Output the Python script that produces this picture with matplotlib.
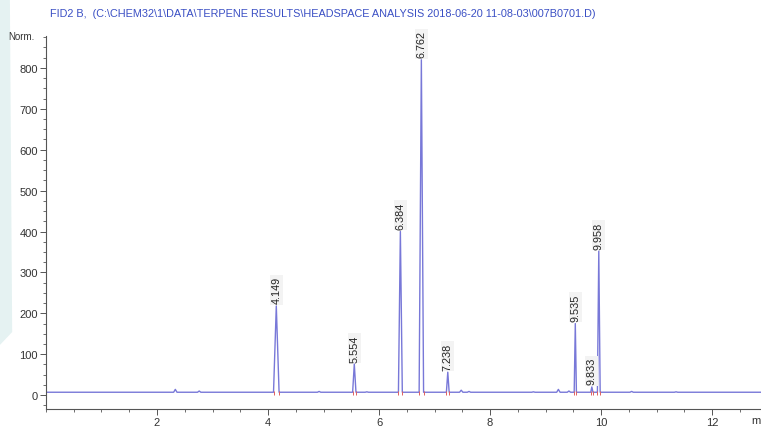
import matplotlib
matplotlib.use("Agg")
import matplotlib.pyplot as plt
from matplotlib.ticker import MultipleLocator

plt.rcParams['font.family'] = ['Liberation Sans', 'DejaVu Sans']

# labelled peaks: retention time (min), height (Norm.), half width (min)
peak_times = [4.149, 5.554, 6.384, 6.762, 7.238, 9.535, 9.833, 9.958]
peak_heights = [218, 76, 400, 820, 56, 175, 20, 352]
peak_widths = [0.05, 0.03, 0.035, 0.04, 0.025, 0.02, 0.02, 0.025]

# small unlabelled bumps
bump_times = [2.33, 2.76, 4.92, 5.78, 7.48, 7.62, 8.78, 9.23, 9.42, 10.55, 11.35]
bump_heights = [14, 10, 9, 8, 12, 9, 8, 14, 10, 9, 8]

baseline = 7
x_end = 13.0

title = "FID2 B,  (C:\\CHEM32\\1\\DATA\\TERPENE RESULTS\\HEADSPACE ANALYSIS 2018-06-20 11-08-03\\007B0701.D)"

# build the trace as a polyline: baseline - peak start - apex - peak end
pts = [(0.0, baseline)]
for t, h, w in sorted(zip(peak_times + bump_times,
                          peak_heights + bump_heights,
                          peak_widths + [0.03] * len(bump_times))):
    pts += [(t - w, baseline), (t, h), (t + w, baseline)]
pts.append((x_end, baseline))
trace_x = [p[0] for p in pts]
trace_y = [p[1] for p in pts]

fig = plt.figure(figsize=(7.61, 4.27), dpi=100)
fig.patch.set_facecolor('white')

# pale page strip on the left edge
fig.patches.append(plt.Polygon([(0, 1), (0.013, 1), (0.016, 0.22), (0, 0.19)],
                               closed=True, transform=fig.transFigure,
                               facecolor='#e5f2f2', edgecolor='none', zorder=0))

ax = fig.add_axes([0.0604, 0.0398, 0.9396, 0.8735])
ax.plot(trace_x, trace_y, color='#7878d8', lw=1.0)

# integration marks at peak bases
for t, w in zip(peak_times, peak_widths):
    ax.plot([t - w, t + w], [baseline - 3, baseline - 3], ls='none',
            marker='|', ms=3, color='#e06060', mew=0.7)

for t, h in zip(peak_times, peak_heights):
    ax.text(t, h + 6, f"{t:.3f}", rotation=90, ha='center', va='bottom',
            fontsize=7.8, color='#222222', clip_on=False,
            bbox=dict(facecolor='#f3f3f3', edgecolor='none', pad=1.0))

ax.set_xlim(0, 12.88)
ax.set_ylim(-34, 878)
ax.xaxis.set_minor_locator(MultipleLocator(0.5))
ax.yaxis.set_minor_locator(MultipleLocator(25))
ax.set_xticks([2, 4, 6, 8, 10, 12])
ax.set_yticks(range(0, 900, 100))

for s in ['top', 'right']:
    ax.spines[s].set_visible(False)
for s in ['left', 'bottom']:
    ax.spines[s].set_color('#555555')
    ax.spines[s].set_linewidth(0.8)
ax.tick_params(which='major', length=4, width=0.7, color='#555555',
               labelsize=8, labelcolor='#333333', pad=2)
ax.tick_params(which='minor', length=2, width=0.6, color='#555555')

fig.text(8 / 761, 1 - 37 / 427, "Norm.", fontsize=7, color='#333333',
         va='center', ha='left')
fig.text(751 / 761, 1 - 421 / 427, "min", fontsize=8, color='#333333',
         va='center', ha='left')
fig.text(50 / 761, 1 - 14 / 427, title, fontsize=7.8, color='#3a4fc4',
         va='center', ha='left')

fig.savefig("out.png", dpi=100, facecolor='white')
